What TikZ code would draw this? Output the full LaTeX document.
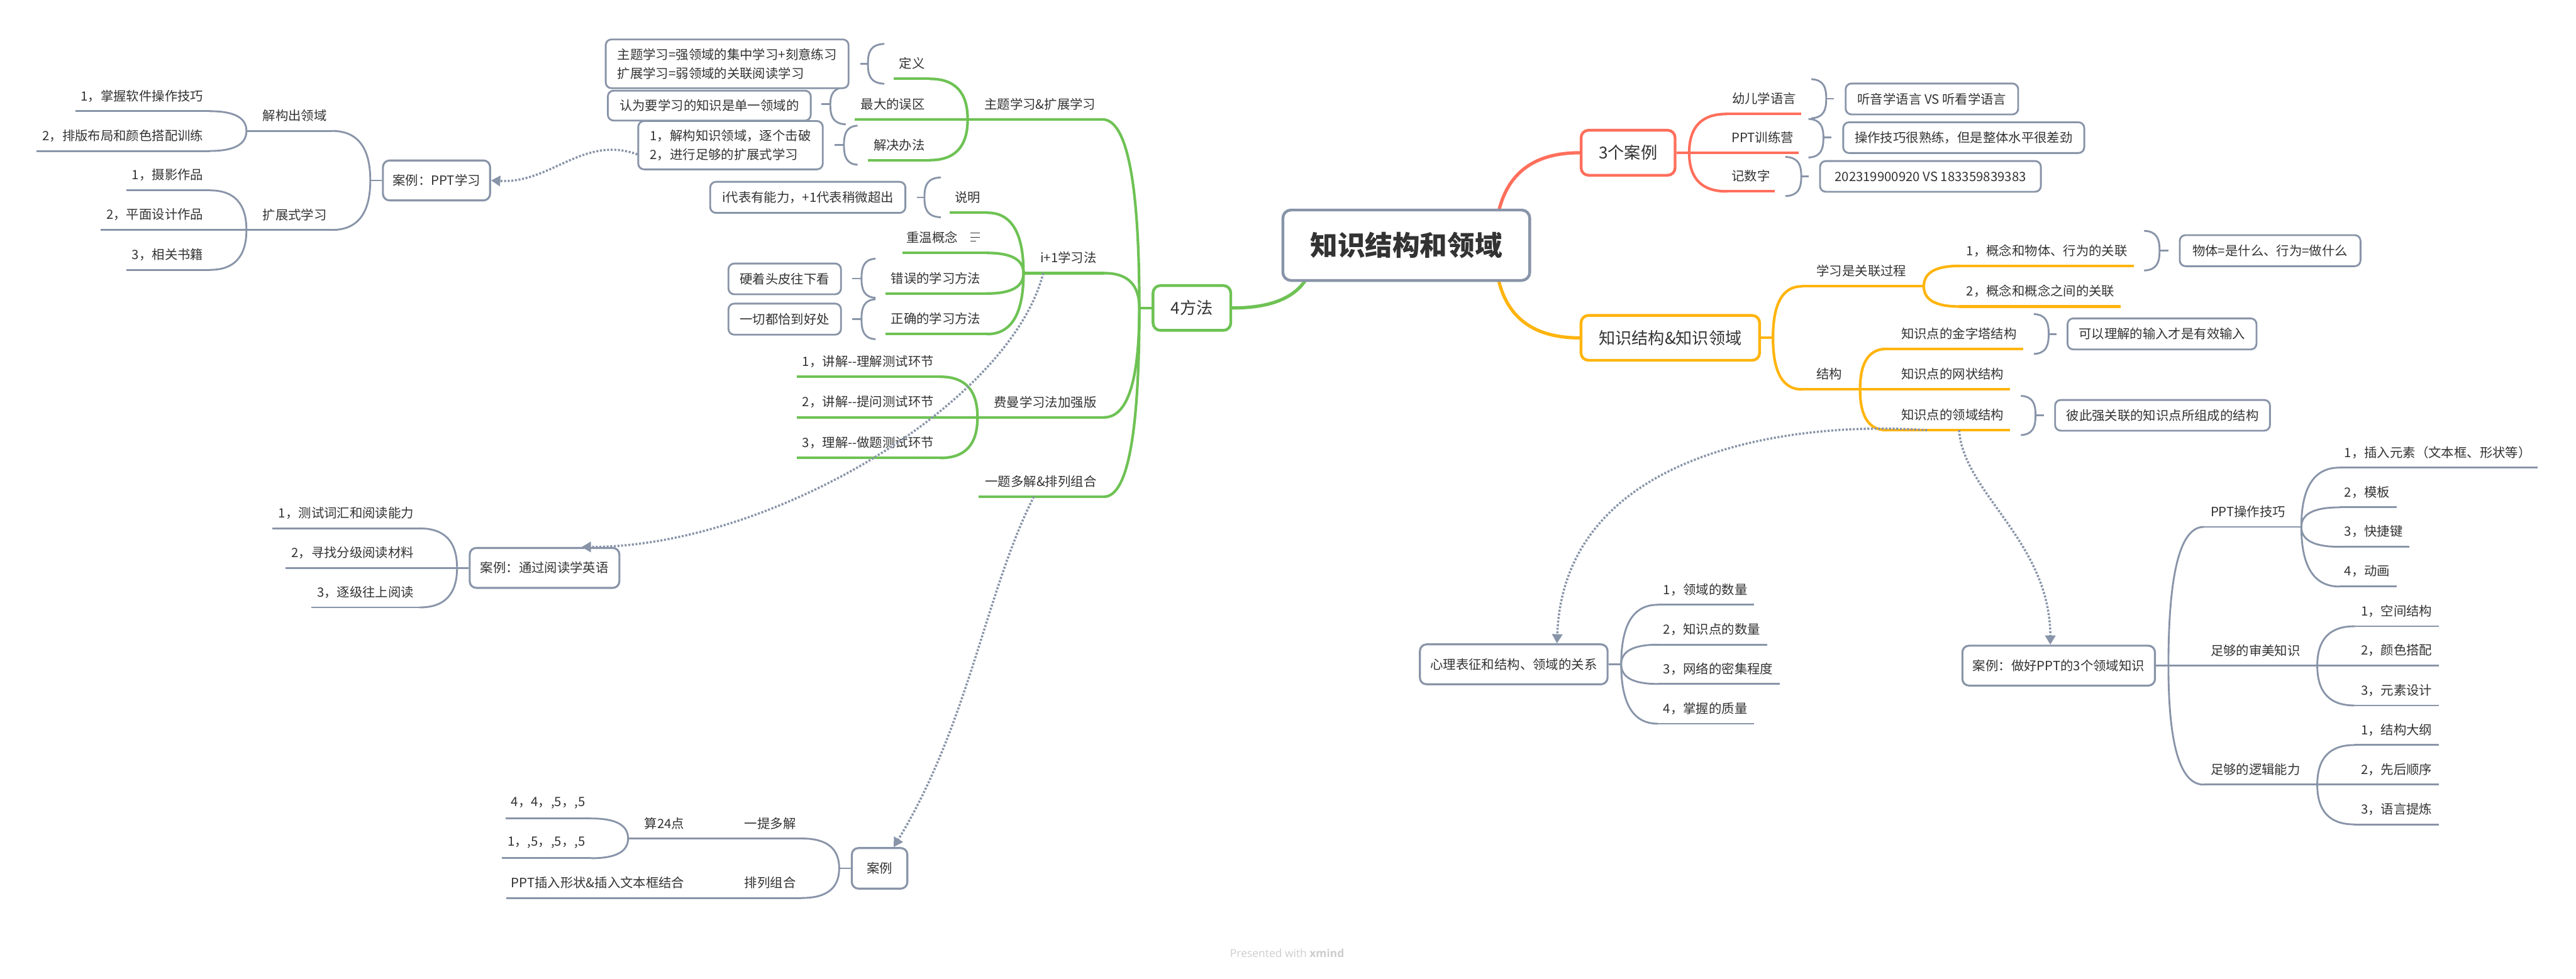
\documentclass[tikz,border=0pt]{standalone}
\usepackage{fontspec}
\setmainfont{Noto Sans CJK SC}
\newfontfamily\wmfont{Open Sans}
\usetikzlibrary{calc,arrows.meta}
\definecolor{gline}{RGB}{136,148,168}
\definecolor{grn}{RGB}{110,194,84}
\definecolor{rd}{RGB}{255,111,92}
\definecolor{org}{RGB}{255,180,14}
\definecolor{txt}{RGB}{51,51,51}
\definecolor{wm}{RGB}{205,205,205}
\pgfdeclarelayer{bgfill}
\pgfdeclarelayer{background}
\pgfsetlayers{bgfill,background,main}
\newcommand\lblfont{\fontsize{22.2}{33.2}\selectfont}
\newcommand\lonefont{\fontsize{28.5}{34}\selectfont}
\newcommand\rootfont{\fontsize{47.5}{56}\selectfont\bfseries}
\tikzset{
  lbl/.style={inner sep=0pt, text=txt, font=\lblfont},
  gl/.style={grn, line width=1.6mm},
  rl/.style={rd, line width=1.6mm},
  ol/.style={org, line width=1.6mm},
  yl/.style={gline, line width=1.1mm},
  brk/.style={gline, line width=1.1mm},
  ml/.style={line width=2mm},
  sbox/.style={draw=gline, line width=1.1mm, rounded corners=3.5mm, fill=white, inner sep=0pt, font=\lblfont, text=txt},
  fbox/.style={sbox, line width=1.2mm, rounded corners=4mm},
  lone/.style={line width=1.7mm, rounded corners=4.5mm, fill=white, inner sep=0pt, font=\lonefont, text=txt},
  rootbox/.style={draw=gline, line width=1.7mm, rounded corners=5mm, fill=white, inner sep=0pt, font=\rootfont, text=txt},
  rel/.style={gline, line width=1.35mm, dash pattern=on 1.2mm off 1.0mm, -{Triangle[length=5.6mm,width=6.2mm]}}
}
% elbow connector: vertical at #2, horizontal at #3
\newcommand\elb[3]{\draw[#1,line cap=round] (#2) .. controls ($(#2)!0.667!(#2|-#3)$) and ($(#3)!0.667!(#2|-#3)$) .. (#3);}
% left-side topic: name, style, x1, x2, underline y, text right x, text
\newcommand\tpL[7]{\coordinate (#1-l) at (#3,#5); \coordinate (#1-r) at (#4,#5);
  \draw[#2] (#1-l) -- (#1-r);
  \node[lbl,anchor=east] (#1) at (#6,{#5-9.3}) {#7};}
% right-side topic: name, style, x1, x2, underline y, text left x, text
\newcommand\tpR[7]{\coordinate (#1-l) at (#3,#5); \coordinate (#1-r) at (#4,#5);
  \draw[#2] (#1-l) -- (#1-r);
  \node[lbl,anchor=west] (#1) at (#6,{#5-9.3}) {#7};}
% brackets: xo xm xs ytop ybottom ymid
\newcommand\lbr[6]{\draw[brk] (#1,#4) .. controls ({#2+1.5},{#4+0.4}) and (#2,{#4+5}) .. (#2,#6) .. controls (#2,{#5-5}) and ({#2+1.5},{#5-0.4}) .. (#1,#5);
  \draw[brk] (#2,#6) -- (#3,#6);}
\newcommand\rbr[6]{\draw[brk] (#1,#4) .. controls ({#2-1.5},{#4+0.4}) and (#2,{#4+5}) .. (#2,#6) .. controls (#2,{#5-5}) and ({#2-1.5},{#5-0.4}) .. (#1,#5);
  \draw[brk] (#2,#6) -- (#3,#6);}
\begin{document}
\begin{tikzpicture}[x=1mm,y=-1mm]
\useasboundingbox (0,0) rectangle (1568,596);
\begin{pgfonlayer}{bgfill}
\fill[white] (0,0) rectangle (1568,596);
\end{pgfonlayer}

% ---------- root and main topics ----------
\node[rootbox,minimum width=150.3mm,minimum height=42.9mm] (root) at (856,149.3) {知识结构和领域};
\node[lone,draw=grn,minimum width=47.3mm,minimum height=27.3mm] (m4) at (725.5,187.5) {4方法};
\node[lone,draw=rd,minimum width=57.2mm,minimum height=27.4mm] (c3) at (991,93) {3个案例};
\node[lone,draw=org,minimum width=108.7mm,minimum height=27.3mm] (ks) at (1016.7,205.7) {知识结构\&知识领域};
\coordinate (g0) at (800,150);
\coordinate (r0) at (910,150);
\begin{pgfonlayer}{background}
\elb{ml,grn}{g0}{m4.east}
\elb{ml,rd}{r0}{c3.west}
\elb{ml,org}{r0}{ks.west}
\end{pgfonlayer}

% ---------- 4方法 ----------
\coordinate (J1) at (693.5,187.5);
\draw[gl] (m4.west) -- (J1);
\tpL{A}{gl}{589}{671}{72.7}{667}{主题学习\&扩展学习}
\tpL{B}{gl}{623}{672.3}{166.3}{667.5}{i+1学习法}
\tpL{C}{gl}{595}{672}{254.1}{667.5}{费曼学习法加强版}
\tpL{D}{gl}{595.8}{672}{302.4}{667.5}{一题多解\&排列组合}
\elb{gl}{J1}{A-r}
\elb{gl}{J1}{B-r}
\elb{gl}{J1}{C-r}
\elb{gl}{J1}{D-r}

\tpL{A1}{gl}{544}{566}{48}{563}{定义}
\tpL{A2}{gl}{520.4}{589}{72.7}{563}{最大的误区}
\tpL{A3}{gl}{528.3}{566}{97.5}{563}{解决办法}
\elb{gl}{A-l}{A1-r}
\elb{gl}{A-l}{A3-r}

\tpL{B1}{gl}{578}{600.9}{129.5}{597}{说明}
\tpL{B2}{gl}{549.2}{600.9}{154}{583}{重温概念}
\tpL{B3}{gl}{538.9}{600.9}{178.7}{597}{错误的学习方法}
\tpL{B4}{gl}{538.9}{600.9}{203.4}{597}{正确的学习方法}
\elb{gl}{B-l}{B1-r}
\elb{gl}{B-l}{B2-r}
\elb{gl}{B-l}{B3-r}
\elb{gl}{B-l}{B4-r}
\draw[txt,line width=0.5mm] (590.8,141.9) -- (596.3,141.9) (590.8,144.4) -- (596.3,144.4) (590.8,146.9) -- (594,146.9);

\tpL{C1}{gl}{485}{572.6}{229.4}{568.5}{1，讲解-{}-理解测试环节}
\tpL{C2}{gl}{485}{595}{254.1}{568.5}{2，讲解-{}-提问测试环节}
\tpL{C3}{gl}{485}{572.6}{278.8}{568.5}{3，理解-{}-做题测试环节}
\elb{gl}{C-l}{C1-r}
\elb{gl}{C-l}{C3-r}

\lbr{538.3}{528.3}{523.8}{26.7}{51}{38.8}
\lbr{514.8}{505.4}{500}{53}{75.7}{63.5}
\lbr{522}{513.7}{508}{76.5}{100.3}{88.2}
\lbr{572.7}{562.7}{558}{108}{132.3}{120.2}
\lbr{532.9}{524.4}{518.8}{157.5}{181.3}{169.6}
\lbr{532.9}{524.4}{518.8}{182.2}{206.5}{194.3}

\node[sbox,minimum width=147.8mm,minimum height=29.7mm,align=left] (bx1) at (442.6,38.85) {主题学习=强领域的集中学习+刻意练习\\扩展学习=弱领域的关联阅读学习};
\node[sbox,minimum width=123.5mm,minimum height=18.2mm] (bx2) at (431.75,64.3) {认为要学习的知识是单一领域的};
\node[sbox,minimum width=112.3mm,minimum height=29.4mm,align=left] (bx3) at (444.65,88.4) {1，解构知识领域，逐个击破\\2，进行足够的扩展式学习};
\node[sbox,minimum width=118.8mm,minimum height=18.9mm] (bx4) at (491.7,120.15) {i代表有能力，+1代表稍微超出};
\node[sbox,minimum width=68.5mm,minimum height=18.7mm] (bx5) at (477.65,169.8) {硬着头皮往下看};
\node[sbox,minimum width=68.5mm,minimum height=18.9mm] (bx6) at (477.65,194.3) {一切都恰到好处};

% ---------- 案例：PPT学习 ----------
\node[fbox,minimum width=65.2mm,minimum height=24.3mm] (cp) at (265.7,109.85) {案例：PPT学习};
\coordinate (J5) at (225.4,109.85);
\draw[yl] (cp.west) -- (J5);
\tpL{P1}{yl}{150}{202}{79.7}{199}{解构出领域}
\tpL{P2}{yl}{150}{202}{140}{199}{扩展式学习}
\elb{yl}{J5}{P1-r}
\elb{yl}{J5}{P2-r}
\tpL{P11}{yl}{45.9}{127.8}{67.7}{123.8}{1，掌握软件操作技巧}
\tpL{P12}{yl}{22.1}{127.8}{91.9}{123.8}{2，排版布局和颜色搭配训练}
\elb{yl}{P1-l}{P11-r}
\elb{yl}{P1-l}{P12-r}
\tpL{P21}{yl}{77.1}{127.8}{115.9}{123.8}{1，摄影作品}
\tpL{P22}{yl}{61.4}{150}{140}{123.8}{2，平面设计作品}
\tpL{P23}{yl}{77.1}{127.8}{164.3}{123.8}{3，相关书籍}
\elb{yl}{P2-l}{P21-r}
\elb{yl}{P2-l}{P23-r}

% ---------- 案例：通过阅读学英语 ----------
\node[fbox,minimum width=91.1mm,minimum height=24.3mm] (ce) at (331.45,345.75) {案例：通过阅读学英语};
\coordinate (J8) at (278.2,345.75);
\draw[yl] (ce.west) -- (J8);
\tpL{E1}{yl}{165.8}{255.5}{321.7}{252}{1，测试词汇和阅读能力}
\tpL{E2}{yl}{173.8}{278.2}{345.75}{252}{2，寻找分级阅读材料}
\tpL{E3}{yl}{189.6}{255.5}{369.8}{252}{3，逐级往上阅读}
\elb{yl}{J8}{E1-r}
\elb{yl}{J8}{E3-r}

% ---------- 案例 (bottom) ----------
\node[fbox,minimum width=33.8mm,minimum height=24.7mm] (cb) at (535.4,528.65) {案例};
\coordinate (J9) at (510.8,528.65);
\draw[yl] (cb.west) -- (J9);
\tpL{K1}{yl}{382.3}{488.2}{510.5}{484.5}{一提多解}
\tpL{K2}{yl}{308}{488.2}{546.7}{484.5}{排列组合}
\elb{yl}{J9}{K1-r}
\elb{yl}{J9}{K2-r}
\node[lbl,anchor=east] (K11) at (416.7,501.2) {算24点};
\node[lbl,anchor=east] (K21) at (416.7,537.4) {PPT插入形状\&插入文本框结合};
\tpL{K111}{yl}{307.7}{360}{498.3}{356.3}{4，4，,5，,5}
\tpL{K112}{yl}{305.3}{360}{522.5}{356.3}{1，,5，,5，,5}
\elb{yl}{K1-l}{K111-r}
\elb{yl}{K1-l}{K112-r}

% ---------- 3个案例 ----------
\coordinate (J11) at (1028.2,93);
\tpR{R1}{rl}{1050.9}{1096.4}{69.4}{1054.2}{幼儿学语言}
\tpR{R2}{rl}{1020.5}{1094.7}{93}{1054}{PPT训练营}
\tpR{R3}{rl}{1050.9}{1080.2}{116.5}{1054}{记数字}
\elb{rl}{J11}{R1-l}
\elb{rl}{J11}{R3-l}
\rbr{1102.5}{1111.6}{1116.4}{48.2}{72}{60.1}
\rbr{1100.8}{1109.9}{1114.8}{72.4}{95.9}{83.8}
\rbr{1086.7}{1096.4}{1100.8}{95.5}{119.4}{107.4}
\node[sbox,minimum width=105mm,minimum height=18.8mm] (bx7) at (1175.95,60.25) {听音学语言 VS 听看学语言};
\node[sbox,minimum width=146.7mm,minimum height=18.7mm] (bx8) at (1195.3,83.8) {操作技巧很熟练，但是整体水平很差劲};
\node[sbox,minimum width=134.4mm,minimum height=18.7mm] (bx9) at (1175.05,107.4) {202319900920 VS 183359839383};

% ---------- 知识结构&知识领域 ----------
\coordinate (J12) at (1079.2,205.7);
\draw[ol] (ks.east) -- (J12);
\tpR{O1}{ol}{1096.9}{1171}{174.3}{1105.7}{学习是关联过程}
\tpR{O2}{ol}{1096.9}{1132.2}{237.1}{1105.7}{结构}
\elb{ol}{J12}{O1-l}
\elb{ol}{J12}{O2-l}
\tpR{O11}{ol}{1192.5}{1299}{161.9}{1196.9}{1，概念和物体、行为的关联}
\tpR{O12}{ol}{1192.5}{1291}{186.6}{1196.9}{2，概念和概念之间的关联}
\elb{ol}{O1-r}{O11-l}
\elb{ol}{O1-r}{O12-l}
\tpR{O21}{ol}{1148.4}{1231.6}{212.4}{1157.2}{知识点的金字塔结构}
\tpR{O22}{ol}{1132.2}{1223.4}{237.1}{1157.2}{知识点的网状结构}
\tpR{O23}{ol}{1148.4}{1223.4}{261.9}{1157.2}{知识点的领域结构}
\elb{ol}{O2-r}{O21-l}
\elb{ol}{O2-r}{O23-l}
\rbr{1305.1}{1314.5}{1319.8}{140.5}{164.7}{152.6}
\rbr{1238}{1247}{1251.9}{191.2}{215.5}{203.3}
\rbr{1230.1}{1239}{1244}{241}{264.9}{252.7}
\node[sbox,minimum width=110mm,minimum height=18.9mm] (bx10) at (1381.8,152.6) {物体=是什么、行为=做什么};
\node[sbox,minimum width=115mm,minimum height=18.9mm] (bx11) at (1316,203.3) {可以理解的输入才是有效输入};
\node[sbox,minimum width=130.8mm,minimum height=18.7mm] (bx12) at (1316.3,252.85) {彼此强关联的知识点所组成的结构};

% ---------- 心理表征 ----------
\node[fbox,minimum width=114.2mm,minimum height=24.3mm] (cx) at (921.4,404.45) {心理表征和结构、领域的关系};
\coordinate (J15) at (986.8,404.45);
\draw[yl] (cx.east) -- (J15);
\tpR{X1}{yl}{1009}{1067.7}{368.2}{1012.4}{1，领域的数量}
\tpR{X2}{yl}{1009}{1075.7}{392.5}{1012.4}{2，知识点的数量}
\tpR{X3}{yl}{1009}{1083.4}{416.4}{1012.4}{3，网络的密集程度}
\tpR{X4}{yl}{1009}{1067.7}{440.6}{1012.4}{4，掌握的质量}
\elb{yl}{J15}{X1-l}
\elb{yl}{J15}{X2-l}
\elb{yl}{J15}{X3-l}
\elb{yl}{J15}{X4-l}

% ---------- 案例：做好PPT的3个领域知识 ----------
\node[fbox,minimum width=117.2mm,minimum height=24.3mm] (cpp) at (1253.1,405.25) {案例：做好PPT的3个领域知识};
\coordinate (J16) at (1319.9,405.25);
\draw[yl] (cpp.east) -- (J16);
\tpR{Q1}{yl}{1341.4}{1400.8}{320.8}{1345.5}{PPT操作技巧}
\tpR{Q2}{yl}{1319.9}{1410.5}{405.25}{1345.5}{足够的审美知识}
\tpR{Q3}{yl}{1341.4}{1410.5}{477.7}{1345.5}{足够的逻辑能力}
\elb{yl}{J16}{Q1-l}
\elb{yl}{J16}{Q3-l}
\tpR{Q11}{yl}{1424}{1544.5}{284.7}{1427}{1，插入元素（文本框、形状等）}
\tpR{Q12}{yl}{1424}{1458.7}{308.9}{1427}{2，模板}
\tpR{Q13}{yl}{1424}{1466.5}{332.9}{1427}{3，快捷键}
\tpR{Q14}{yl}{1424}{1458.7}{357.1}{1427}{4，动画}
\elb{yl}{Q1-r}{Q11-l}
\elb{yl}{Q1-r}{Q12-l}
\elb{yl}{Q1-r}{Q13-l}
\elb{yl}{Q1-r}{Q14-l}
\tpR{Q21}{yl}{1433}{1484.5}{381.3}{1437}{1，空间结构}
\tpR{Q22}{yl}{1410.5}{1484.5}{405.25}{1437}{2，颜色搭配}
\tpR{Q23}{yl}{1433}{1484.5}{429.5}{1437}{3，元素设计}
\elb{yl}{Q2-r}{Q21-l}
\elb{yl}{Q2-r}{Q23-l}
\tpR{Q31}{yl}{1433}{1484.5}{453.6}{1437}{1，结构大纲}
\tpR{Q32}{yl}{1410.5}{1484.5}{477.7}{1437}{2，先后顺序}
\tpR{Q33}{yl}{1433}{1484.5}{501.9}{1437}{3，语言提炼}
\elb{yl}{Q3-r}{Q31-l}
\elb{yl}{Q3-r}{Q33-l}

% ---------- relationships (dotted) ----------
\coordinate (s1) at (388,94);
\coordinate (s2) at (635,166.3);
\coordinate (s3) at (629.3,302.4);
\coordinate (s4) at (1173,261.9);
\coordinate (s5) at (1192.5,261.9);
\coordinate (e2) at ($(ce.north east)!0.255!(ce.north west)$);
\coordinate (e3) at ($(cb.north)+(8.6,0)$);
\coordinate (e4) at ($(cx.north)+(26.3,0)$);
\coordinate (e5) at ($(cpp.north)+(-5.1,0)$);
\draw[rel] (s1) .. controls (355,82) and (335,112) .. (cp.east);
\draw[rel] (s2) .. controls (615,245) and (470,333) .. (e2);
\draw[rel] (s3) .. controls (600,360) and (590,440) .. (e3);
\draw[rel] (s4) .. controls (1090,256) and (952,275) .. (e4);
\draw[rel] (s5) .. controls (1195,300) and (1248,330) .. (e5);

% ---------- watermark ----------
\node[inner sep=0pt, text=wm, font=\wmfont\fontsize{19}{22}\selectfont] (wmk) at (783.5,580.2) {Presented with \textbf{xmind}};
\end{tikzpicture}
\end{document}
